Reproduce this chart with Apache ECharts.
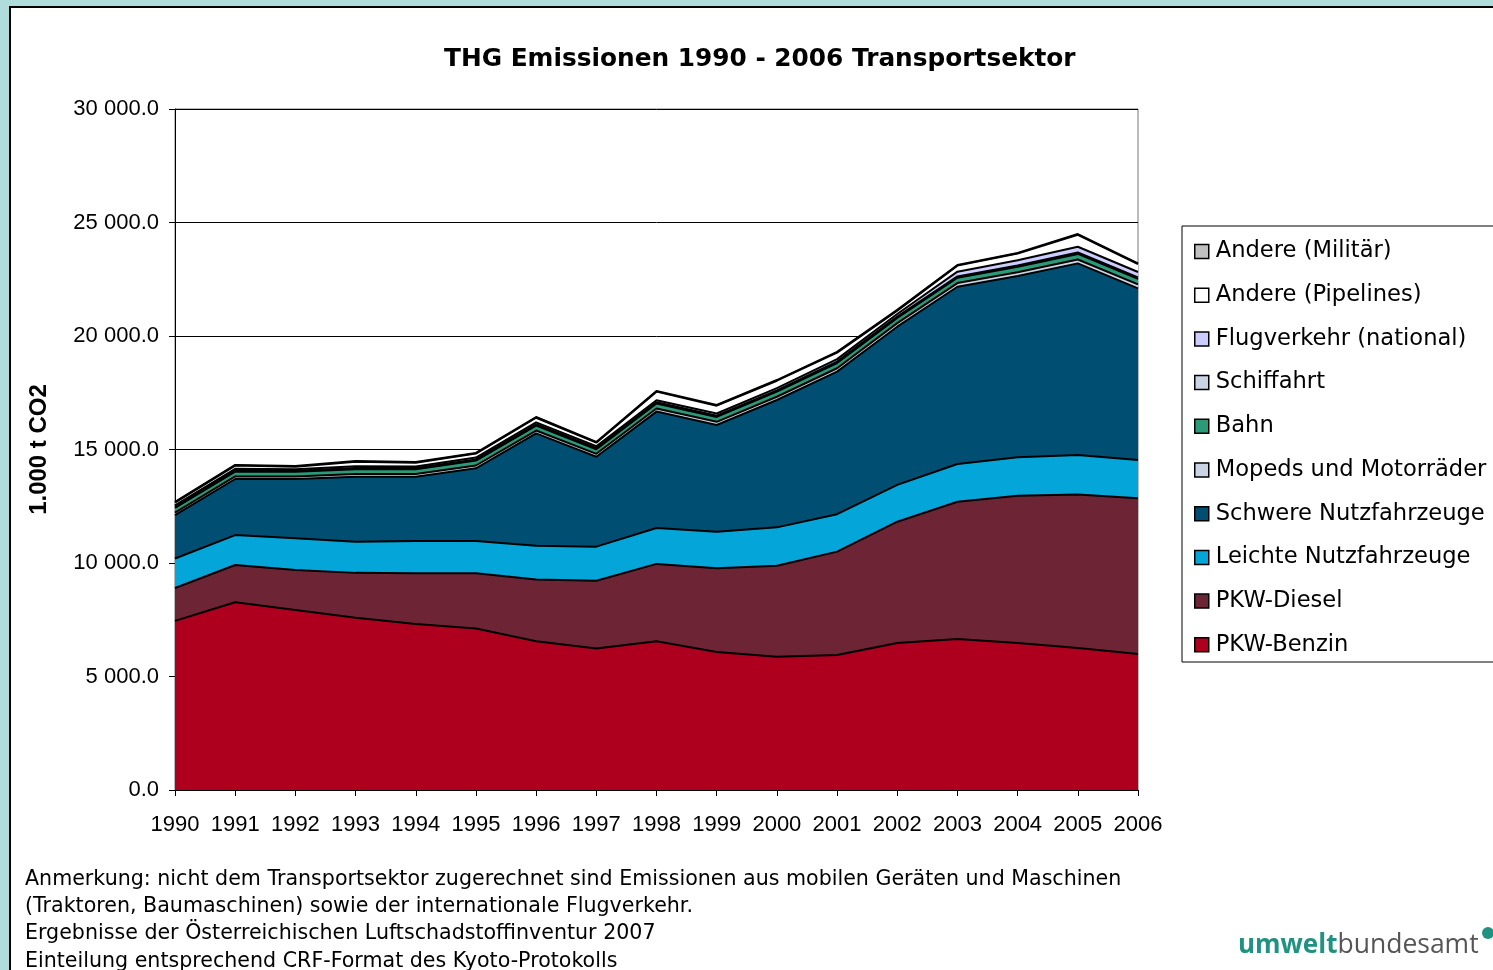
<!DOCTYPE html>
<html>
<head>
<meta charset="utf-8">
<title>THG Emissionen 1990 - 2006 Transportsektor</title>
<script src="https://cdn.jsdelivr.net/npm/echarts@6/dist/echarts.min.js"></script>
<style>
  html, body { margin: 0; padding: 0; background: #b0dcdc; overflow: hidden; }
  #frame { position: absolute; left: 9px; top: 6px; width: 1600px; height: 1100px; background: #fff; border: 2px solid #000; }
  #chart { position: absolute; left: 0; top: 0; width: 1493px; height: 970px; }
</style>
</head>
<body>
<div id="frame"></div>
<div id="chart"></div>
<script>
const years = ['1990', '1991', '1992', '1993', '1994', '1995', '1996', '1997', '1998',
  '1999', '2000', '2001', '2002', '2003', '2004', '2005', '2006'];

// 1.000 t CO2 (stacked from the bottom up)
const pkwBenzin = [7450, 8270, 7930, 7590, 7310, 7110, 6550, 6230, 6550, 6080, 5870, 5950, 6480, 6650, 6480, 6260, 5990];
const pkwDiesel = [1450, 1640, 1760, 1975, 2240, 2440, 2720, 2985, 3410, 3690, 4010, 4550, 5340, 6050, 6480, 6760, 6860];
const leichteNfz = [1300, 1320, 1400, 1375, 1420, 1420, 1490, 1505, 1580, 1610, 1690, 1650, 1620, 1660, 1700, 1740, 1690];
const schwereNfz = [1910, 2470, 2610, 2860, 2830, 3200, 4950, 3960, 5130, 4700, 5610, 6280, 6970, 7810, 7980, 8440, 7560];
const mopeds = [110, 115, 115, 120, 120, 125, 125, 130, 135, 140, 145, 150, 155, 160, 165, 170, 175];
const bahn = [210, 215, 200, 215, 210, 215, 220, 200, 220, 215, 225, 230, 230, 235, 240, 245, 240];
const schiffahrt = [50, 50, 45, 50, 50, 55, 55, 50, 55, 55, 55, 60, 60, 60, 65, 65, 65];
const flugverkehr = [60, 70, 70, 75, 75, 80, 85, 85, 90, 95, 100, 110, 115, 210, 230, 250, 240];
const pipelines = [120, 140, 110, 200, 165, 175, 205, 155, 380, 345, 325, 290, 150, 265, 290, 530, 350];
const militaer = [30, 30, 30, 30, 30, 30, 30, 30, 30, 30, 30, 30, 30, 30, 30, 30, 30];

const seriesNames = ['PKW-Benzin', 'PKW-Diesel', 'Leichte Nutzfahrzeuge', 'Schwere Nutzfahrzeuge',
  'Mopeds und Motorräder', 'Bahn', 'Schiffahrt', 'Flugverkehr (national)', 'Andere (Pipelines)', 'Andere (Militär)'];
const seriesValues = [pkwBenzin, pkwDiesel, leichteNfz, schwereNfz, mopeds, bahn, schiffahrt, flugverkehr, pipelines, militaer];
const seriesColors = ['#ae001e', '#6d2535', '#04a6da', '#004f73', '#c9d5e4', '#2a9a78', '#c9d5e4', '#ccccff', '#ffffff', '#c0c0c0'];

const footnotes = [
  'Anmerkung: nicht dem Transportsektor zugerechnet sind Emissionen aus mobilen Geräten und Maschinen',
  '(Traktoren, Baumaschinen) sowie der internationale Flugverkehr.',
  'Ergebnisse der Österreichischen Luftschadstoffinventur 2007',
  'Einteilung entsprechend CRF-Format des Kyoto-Protokolls'
];

function fmt(v) {
  const parts = v.toFixed(1).split('.');
  return parts[0].replace(/\B(?=(\d{3})+(?!\d))/g, ' ') + '.' + parts[1];
}

const chart = echarts.init(document.getElementById('chart'), null, { renderer: 'canvas' });

chart.setOption({
  backgroundColor: 'transparent',
  animation: false,
  title: {
    text: 'THG Emissionen 1990 - 2006 Transportsektor',
    left: 444,
    top: 47,
    padding: 0,
    textStyle: { fontFamily: 'DejaVu Sans', fontWeight: 'bold', fontSize: 24.8, color: '#000' }
  },
  grid: {
    left: 175, right: 355, top: 109, bottom: 180,
    show: true, backgroundColor: '#fff', borderColor: '#777', borderWidth: 1
  },
  legend: {
    orient: 'vertical',
    left: 1194,
    top: 240,
    padding: 0,
    itemWidth: 14,
    itemHeight: 14,
    itemGap: 20.7,
    icon: 'rect',
    selectedMode: false,
    data: seriesNames.slice().reverse(),
    itemStyle: { borderColor: '#000', borderWidth: 1.5 },
    textStyle: { fontFamily: 'DejaVu Sans', fontSize: 22.6, color: '#000', lineHeight: 22.5, padding: [0, 0, 0, 2] }
  },
  xAxis: {
    type: 'category',
    data: years,
    boundaryGap: false,
    axisLine: { lineStyle: { color: '#000', width: 1 } },
    axisTick: { show: true, length: 6, interval: 0, lineStyle: { color: '#000' } },
    axisLabel: { fontFamily: 'Liberation Sans', fontSize: 22, color: '#000', margin: 24, interval: 0 }
  },
  yAxis: {
    type: 'value',
    min: 0,
    max: 30000,
    interval: 5000,
    name: '1.000 t CO2',
    nameLocation: 'middle',
    nameRotate: 90,
    nameGap: 124,
    nameTextStyle: { fontFamily: 'Liberation Sans', fontWeight: 'bold', fontSize: 24, color: '#000' },
    axisLine: { show: true, lineStyle: { color: '#000', width: 1 } },
    axisTick: { show: true, length: 6, lineStyle: { color: '#000' } },
    splitLine: { lineStyle: { color: '#000', width: 1 } },
    axisLabel: { fontFamily: 'Liberation Sans', fontSize: 22, color: '#000', margin: 16, formatter: fmt }
  },
  series: seriesNames.map((name, i) => ({
    name: name,
    type: 'line',
    stack: 'total',
    data: seriesValues[i],
    color: seriesColors[i],
    symbol: 'none',
    lineStyle: { color: '#000', width: 2 },
    areaStyle: { color: seriesColors[i], opacity: 1 },
    emphasis: { disabled: true }
  })),
  graphic: [
    {
      type: 'rect', z: -1,
      shape: { x: 1182, y: 226, width: 400, height: 436 },
      style: { fill: '#fff', stroke: '#000', lineWidth: 1 }
    },
    {
      type: 'text', left: 25, top: 866,
      style: {
        text: footnotes.join('\n'),
        font: '20.6px "DejaVu Sans"',
        lineHeight: 27.2,
        fill: '#000'
      }
    },
    {
      type: 'text', left: 1238, top: 932,
      style: {
        text: '{a|umwelt}{b|bundesamt}',
        rich: {
          a: { fontFamily: 'Open Sans', fontWeight: 'bold', fontSize: 26, fill: '#1f9281' },
          b: { fontFamily: 'Open Sans', fontSize: 26.5, fill: '#555' }
        }
      }
    },
    {
      type: 'circle',
      shape: { cx: 1488, cy: 933, r: 6 },
      style: { fill: '#1f9281' }
    }
  ]
});
</script>
</body>
</html>
